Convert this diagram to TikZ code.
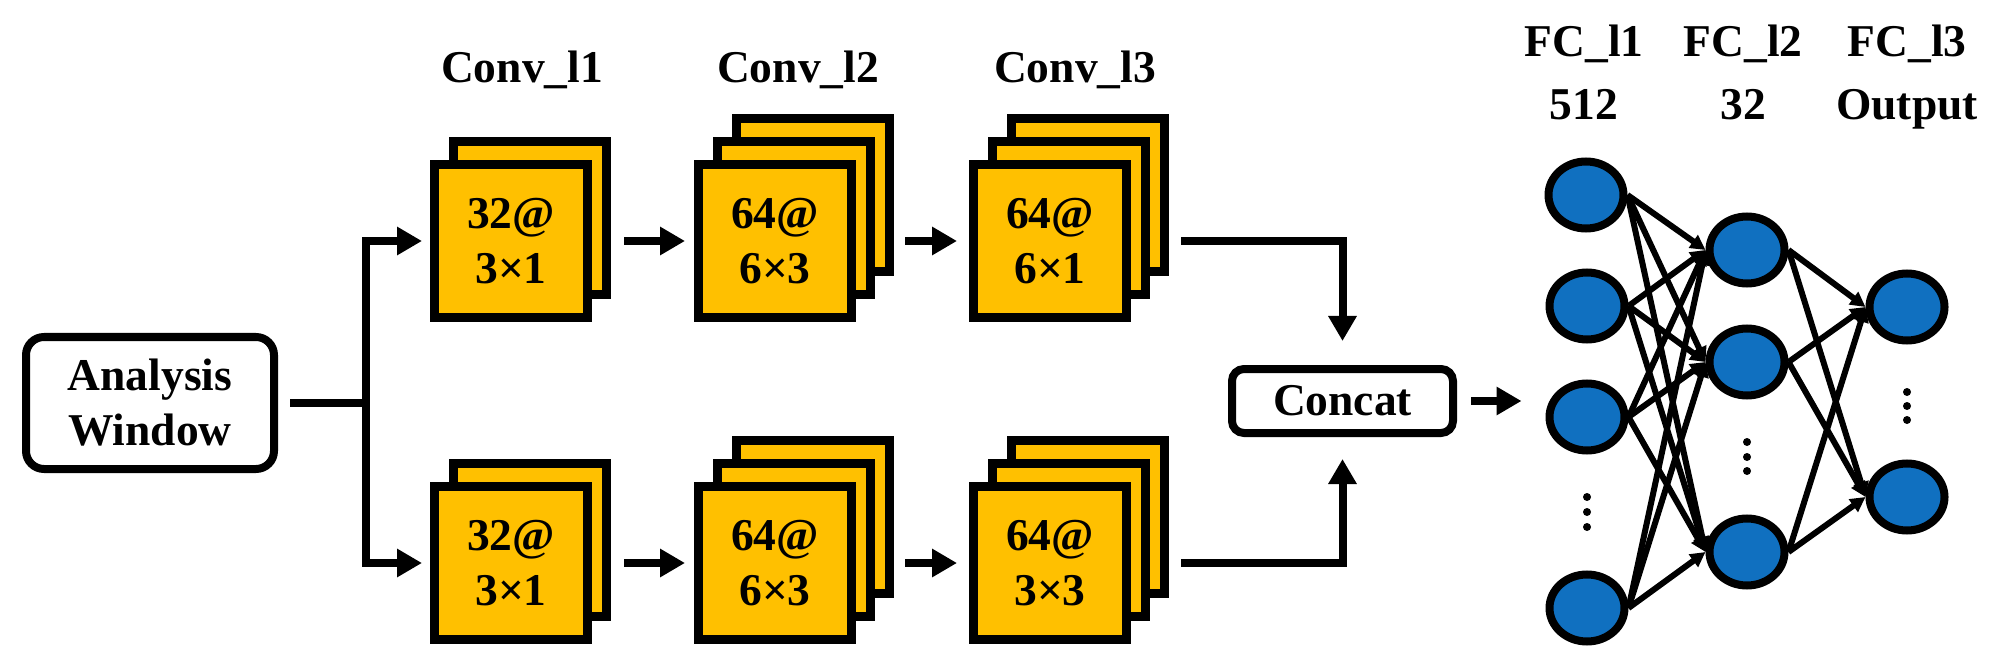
\documentclass[tikz,border=0pt]{standalone}
\usepackage{fontspec}
\setmainfont{Liberation Serif}
\usetikzlibrary{arrows.meta,shapes.geometric,calc}
\definecolor{convyel}{HTML}{FFC000}
\definecolor{nodeblue}{HTML}{1070C0}
\begin{document}
\begin{tikzpicture}[x=1pt,y=-1pt,
  lbl/.style={font=\fontsize{45.5}{55}\selectfont\bfseries, align=center, inner sep=0pt},
  fclbl/.style={font=\fontsize{45.5}{63}\selectfont\bfseries, align=center, inner sep=0pt},
  layer/.style={draw=black, fill=convyel, line width=9pt, minimum width=153pt, minimum height=153pt, inner sep=0pt},
  rbox/.style={draw=black, fill=white, line width=8pt, inner sep=0pt},
  fcnode/.style={ellipse, draw=black, fill=nodeblue, line width=8pt, minimum width=75pt, minimum height=67pt, inner sep=0pt},
  plain/.style={line width=8pt},
  arr/.style={line width=8pt, -{Triangle[length=25pt,width=27pt]}},
  fcarr/.style={line width=6pt, -{Triangle[length=15pt,width=15pt]}}
]
\useasboundingbox (0,0) rectangle (2000,660);

% Analysis window
\node[rbox, lbl, rounded corners=18pt, minimum width=248pt, minimum height=132pt] (aw) at (150,403) {Analysis\\Window};
\coordinate (split) at (366,403);

% top row conv stacks
\node[layer] (c11b) at (530,218) {};
\node[layer, lbl] (c11) at (511,241) {32@\\3×1};
\node[layer] (c12c) at (813,195) {};
\node[layer] (c12b) at (794,218) {};
\node[layer, lbl] (c12) at (775,241) {64@\\6×3};
\node[layer] (c13c) at (1088,195) {};
\node[layer] (c13b) at (1069,218) {};
\node[layer, lbl] (c13) at (1050,241) {64@\\6×1};

% bottom row conv stacks
\node[layer] (c21b) at (530,540) {};
\node[layer, lbl] (c21) at (511,563) {32@\\3×1};
\node[layer] (c22c) at (813,517) {};
\node[layer] (c22b) at (794,540) {};
\node[layer, lbl] (c22) at (775,563) {64@\\6×3};
\node[layer] (c23c) at (1088,517) {};
\node[layer] (c23b) at (1069,540) {};
\node[layer, lbl] (c23) at (1050,563) {64@\\3×3};

% conv labels
\node[lbl, anchor=base] (t1) at (522,83) {Conv\_l1};
\node[lbl, anchor=base] (t2) at (798,83) {Conv\_l2};
\node[lbl, anchor=base] (t3) at (1075,83) {Conv\_l3};

% concat
\node[rbox, lbl, rounded corners=12pt, minimum width=221pt, minimum height=64pt] (concat) at (1342.5,401) {Concat};

% FC nodes
\node[fcnode] (f11) at (1586,195) {};
\node[fcnode] (f12) at (1587,306) {};
\node[fcnode] (f13) at (1587,417) {};
\node[fcnode] (f15) at (1587,608) {};
\node[fcnode] (f21) at (1747,250) {};
\node[fcnode] (f22) at (1747,362) {};
\node[fcnode] (f23) at (1747,552) {};
\node[fcnode] (f31) at (1907,307) {};
\node[fcnode] (f32) at (1907,497) {};

% FC labels
\node[fclbl] (l1) at (1584,72) {FC\_l1\\512};
\node[fclbl] (l2) at (1743,72) {FC\_l2\\32};
\node[fclbl] (l3) at (1907,77) {FC\_l3\\Output};

% dots
\foreach \y in {497,512,527} \fill (1587,\y) circle (4pt);
\foreach \y in {442,457,471} \fill (1747,\y) circle (4pt);
\foreach \y in {392,406,420} \fill (1907,\y) circle (4pt);

% connectors
\draw[plain] ([xshift=12pt]aw.east) -- (split);
\draw[arr, shorten >=8pt] (split) |- (c11.west);
\draw[arr, shorten >=8pt] (split) |- (c21.west);

\draw[arr] ($(c11b.east |- c11.center)+(13,0)$) -- ($(c12.west)+(-9,0)$);
\draw[arr] ($(c12c.east |- c12.center)+(11,0)$) -- ($(c13.west)+(-12,0)$);
\draw[arr] ($(c21b.east |- c21.center)+(13,0)$) -- ($(c22.west)+(-9,0)$);
\draw[arr] ($(c22c.east |- c22.center)+(11,0)$) -- ($(c23.west)+(-12,0)$);

\draw[arr] ($(c13c.east |- c13.center)+(12,0)$) -| ($(concat.north)+(0,-24)$);
\draw[arr] ($(c23c.east |- c23.center)+(12,0)$) -| ($(concat.south)+(0,22)$);

\coordinate (fcin) at ($(concat.east -| f13.west)+(-24,0)$);
\draw[arr] ([xshift=14pt]concat.east) -- (fcin);

\foreach \a in {f11,f12,f13,f15}
  \foreach \b in {f21,f22,f23}
    \draw[fcarr] (\a.east) -- (\b.west);
\foreach \a in {f21,f22,f23}
  \foreach \b in {f31,f32}
    \draw[fcarr] (\a.east) -- (\b.west);
\end{tikzpicture}
\end{document}
